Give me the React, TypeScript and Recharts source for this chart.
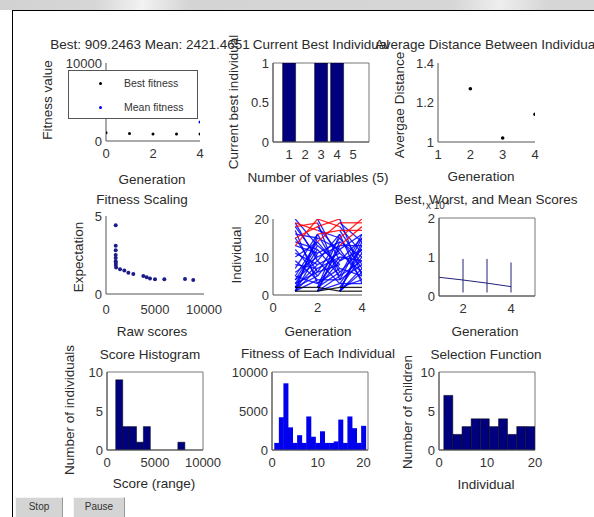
import React from 'react';
import {
  ScatterChart, Scatter, BarChart, Bar, LineChart, Line, ComposedChart, ErrorBar,
  XAxis, YAxis, ReferenceArea,
} from 'recharts';

// Best: / Mean: per generation
const generations = [0, 1, 2, 3, 4];
const bestFitness = [1050, 950, 909, 909, 909];
const meanFitness = [5600, 4800, 4100, 3300, 2421];

// current best individual
const variables = [1, 2, 3, 4, 5];
const bestIndividual = [1, 0, 1, 1, 0];

// average distance
const distGens = [2, 3, 4];
const avgDistance = [1.27, 1.02, 1.14];

// fitness scaling
const rawScores = [990, 990, 990, 990, 990, 990, 1000, 1000, 1030, 1430, 1870, 2280, 2790, 3810, 4150, 4490, 5000, 5950, 8060, 8900];
const expectation = [4.4, 3.1, 2.8, 2.5, 2.3, 2.1, 1.98, 1.86, 1.7, 1.58, 1.5, 1.37, 1.28, 1.15, 1.07, 1.0, 0.94, 0.94, 0.96, 0.9];

// genealogy: parents of each child (0 = no second parent)
const parentsA2 = [1, 2, 5, 1, 12, 3, 8, 2, 19, 6, 1, 14, 4, 10, 2, 7, 19, 15, 18, 13];
const parentsB2 = [0, 0, 17, 9, 2, 15, 1, 11, 4, 18, 13, 3, 20, 5, 16, 1, 0, 0, 0, 0];
const parentsA3 = [2, 1, 9, 4, 1, 16, 3, 13, 2, 7, 18, 5, 1, 11, 6, 2, 16, 20, 14, 18];
const parentsB3 = [0, 0, 1, 19, 12, 2, 14, 6, 20, 3, 8, 15, 10, 1, 17, 9, 0, 0, 0, 0];
const parentsA4 = [1, 2, 3, 12, 7, 1, 15, 4, 10, 2, 18, 6, 13, 1, 9, 5, 17, 13, 19, 15];
const parentsB4 = [0, 0, 16, 2, 20, 11, 1, 17, 5, 14, 3, 9, 1, 19, 4, 12, 0, 0, 0, 0];

// best, worst and mean scores (x 10^4)
const scoreGens = [1, 2, 3, 4];
const meanScore = [0.48, 0.41, 0.33, 0.24];
const bestScore = [0.48, 0.09, 0.09, 0.09];
const worstScore = [0.48, 0.95, 0.95, 0.86];

// score histogram
const histCenters = [1269, 1988, 2707, 3426, 4145, 4864, 5583, 6302, 7021, 7740];
const histCounts = [9, 3, 3, 1, 3, 0, 0, 0, 0, 1];

// fitness of each individual
const individuals = [1, 2, 3, 4, 5, 6, 7, 8, 9, 10, 11, 12, 13, 14, 15, 16, 17, 18, 19, 20];
const fitnessEach = [909, 4200, 8550, 2900, 909, 1900, 909, 4300, 1700, 909, 2400, 909, 909, 1100, 3900, 909, 4300, 2800, 909, 3100];

// selection function
const selCenters = [1.95, 3.85, 5.75, 7.65, 9.55, 11.45, 13.35, 15.25, 17.15, 19.05];
const selCounts = [7, 2, 3, 4, 4, 3, 4, 2, 3, 3];

const font = 'Arial, "Liberation Sans", Helvetica, sans-serif';
const tick = { fontSize: 13, fill: '#333', fontFamily: font };
const axisColor = '#555';
const YW = 46, MT = 10, MR = 22, XH = 28;

const frame = (x: number, y: number, w: number, h: number) => ({
  wrap: { position: 'absolute' as const, left: x - YW, top: y - MT },
  width: YW + w + MR,
  height: MT + h + XH,
  margin: { top: MT, right: MR, left: 0, bottom: 0 },
});

const xAx = (domain: number[], ticks: number[], key: string, tm = 8) => (
  <XAxis type="number" dataKey={key} domain={domain} ticks={ticks} interval={0} tickLine={false}
    tickSize={0} tickMargin={tm} stroke={axisColor} tick={tick} height={XH} allowDataOverflow />
);
const yAx = (domain: number[], ticks: number[], key?: string) => (
  <YAxis type="number" dataKey={key} domain={domain} ticks={ticks} interval={0} tickLine={false}
    tickSize={0} tickMargin={4} stroke={axisColor} tick={tick} width={YW} allowDataOverflow />
);
const boxOf = (x1: number, x2: number, y1: number, y2: number) => (
  <ReferenceArea x1={x1} x2={x2} y1={y1} y2={y2} fill="none" stroke="#777" ifOverflow="visible" />
);
const dot = (r: number, color: string) => (p: any) => <circle cx={p.cx} cy={p.cy} r={r} fill={color} />;

const Txt = ({ x, y, rot, size = 13.5, children }: { x: number; y: number; rot?: boolean; size?: number; children: React.ReactNode }) => (
  <div style={{
    position: 'absolute', left: x, top: y, whiteSpace: 'nowrap', fontFamily: font, fontSize: size, color: '#2a2a2a',
    transform: `translate(-50%,-50%)${rot ? ' rotate(-90deg)' : ''}`, lineHeight: 1,
  }}>{children}</div>
);

type Seg = { data: { g: number; v: number }[]; color: string };
const buildSegments = () => {
  const trans = [
    { g: 2, a: parentsA2, b: parentsB2 },
    { g: 3, a: parentsA3, b: parentsB3 },
    { g: 4, a: parentsA4, b: parentsB4 },
  ];
  const blue: Seg[] = [], red: Seg[] = [], black: Seg[] = [];
  trans.forEach(t => {
    t.a.forEach((pa, i) => {
      const child = i + 1;
      const seg = (p: number) => [{ g: t.g - 1, v: p }, { g: t.g, v: child }];
      if (child <= 2) black.push({ data: seg(pa), color: '#000' });
      else if (child <= 16) {
        blue.push({ data: seg(pa), color: '#0000ff' });
        if (t.b[i]) blue.push({ data: seg(t.b[i]), color: '#0000ff' });
      } else red.push({ data: seg(pa), color: '#ff0000' });
    });
  });
  return [...blue, ...red, ...black];
};

const btn = (left: number, width: number) => ({
  position: 'absolute' as const, left, top: 497, width, height: 22, background: '#d4d4d4',
  borderTop: '1px solid #f4f4f4', borderLeft: '1px solid #f4f4f4', borderRight: '1px solid #999',
  fontSize: 10, color: '#333', textAlign: 'center' as const, lineHeight: '18px',
});

export default function App() {
  const p1 = frame(106, 63, 94, 78);
  const p2 = frame(273, 63, 96, 79);
  const p3 = frame(438, 63, 97, 79);
  const p4 = frame(106, 216, 98, 78);
  const p5 = frame(273, 219, 89, 76);
  const p6 = frame(439, 218, 96, 78);
  const p7 = frame(107, 372, 96, 78);
  const p8 = frame(272, 372, 96, 78);
  const p9 = frame(439, 372, 96, 78);

  const bestData = generations.map((g, i) => ({ x: g, y: bestFitness[i] }));
  const meanData = generations.map((g, i) => ({ x: g, y: meanFitness[i] }));
  const indData = variables.map((v, i) => ({ x: v, y: bestIndividual[i] }));
  const distData = distGens.map((g, i) => ({ x: g, y: avgDistance[i] }));
  const scaleData = rawScores.map((s, i) => ({ x: s, y: expectation[i] }));
  const segments = buildSegments();
  const scoreData = scoreGens.map((g, i) => ({
    g, mean: meanScore[i], err: [meanScore[i] - bestScore[i], worstScore[i] - meanScore[i]],
  }));
  const histData = histCenters.map((c, i) => ({ x: c, y: histCounts[i] }));
  const fitData = individuals.map((n, i) => ({ x: n, y: fitnessEach[i] }));
  const selData = selCenters.map((c, i) => ({ x: c, y: selCounts[i] }));

  return (
    <div style={{ position: 'absolute', left: 0, top: 0, width: 594, height: 517, background: '#fff', overflow: 'hidden', fontFamily: font }}>
      <div style={{ position: 'absolute', left: 0, top: 0, width: 594, height: 10,
        background: 'linear-gradient(100deg, #d2d2d2 0%, #d6d6d6 16%, #f2f2f2 24%, #d4d4d4 32%, #d6d6d6 76%, #eeeeee 84%, #d6d6d6 92%)' }} />
      <div style={{ position: 'absolute', left: 12, top: 10, width: 582, height: 1, background: '#000' }} />
      <div style={{ position: 'absolute', left: 12, top: 10, width: 1, height: 507, background: '#000' }} />

      <div style={p1.wrap}>
        <ScatterChart width={p1.width} height={p1.height} margin={p1.margin}>
          {xAx([0, 4], [0, 2, 4], 'x')}
          {yAx([0, 10000], [0, 10000], 'y')}
          <Scatter data={meanData} shape={dot(1.5, '#0000ff')} isAnimationActive={false} />
          <Scatter data={bestData} shape={dot(1.5, '#000')} isAnimationActive={false} />
        </ScatterChart>
      </div>
      <div style={{ position: 'absolute', left: 68, top: 70, width: 128, height: 47, border: '1px solid #555', background: '#fff' }}>
        <div style={{ position: 'absolute', left: 30, top: 11, width: 3, height: 3, borderRadius: 2, background: '#000' }} />
        <div style={{ position: 'absolute', left: 55, top: 6, fontSize: 10.5, color: '#333' }}>Best fitness</div>
        <div style={{ position: 'absolute', left: 30, top: 35, width: 3, height: 3, borderRadius: 2, background: '#0000ff' }} />
        <div style={{ position: 'absolute', left: 55, top: 30, fontSize: 10.5, color: '#333' }}>Mean fitness</div>
      </div>

      <div style={p2.wrap}>
        <BarChart width={p2.width} height={p2.height} margin={p2.margin} data={indData} barCategoryGap="10%">
          {xAx([0, 6], [1, 2, 3, 4, 5], 'x')}
          {yAx([0, 1], [0, 0.5, 1])}
          <Bar dataKey="y" fill="#00007f" stroke="#000" strokeWidth={0.5} isAnimationActive={false} />
          {boxOf(0, 6, 0, 1)}
        </BarChart>
      </div>

      <div style={p3.wrap}>
        <ScatterChart width={p3.width} height={p3.height} margin={p3.margin}>
          {xAx([1, 4], [1, 2, 3, 4], 'x')}
          {yAx([1, 1.4], [1, 1.2, 1.4], 'y')}
          <Scatter data={distData} shape={dot(1.8, '#000')} isAnimationActive={false} />
        </ScatterChart>
      </div>

      <div style={p4.wrap}>
        <ScatterChart width={p4.width} height={p4.height} margin={p4.margin}>
          {xAx([0, 10000], [0, 5000, 10000], 'x', 11)}
          {yAx([0, 5], [0, 5], 'y')}
          <Scatter data={scaleData} shape={dot(2, '#1c1c8a')} isAnimationActive={false} />
        </ScatterChart>
      </div>

      <div style={p5.wrap}>
        <LineChart width={p5.width} height={p5.height} margin={p5.margin}>
          {xAx([0, 4], [0, 2, 4], 'g')}
          {yAx([0, 20], [0, 10, 20])}
          {segments.map((s, i) => (
            <Line key={i} data={s.data} dataKey="v" stroke={s.color} strokeWidth={1.3} dot={false}
              strokeOpacity={0.85} isAnimationActive={false} />
          ))}
        </LineChart>
      </div>

      <div style={p6.wrap}>
        <ComposedChart width={p6.width} height={p6.height} margin={p6.margin} data={scoreData}>
          {xAx([1, 5], [2, 4], 'g')}
          {yAx([0, 2], [0, 1, 2])}
          <Line dataKey="mean" stroke="#22227a" strokeWidth={1} dot={false} isAnimationActive={false}>
            <ErrorBar dataKey="err" width={0} stroke="#22227a" strokeWidth={1} direction="y" />
          </Line>
          {boxOf(1, 5, 0, 2)}
        </ComposedChart>
      </div>

      <div style={p7.wrap}>
        <BarChart width={p7.width} height={p7.height} margin={p7.margin} data={histData} barCategoryGap={0} barGap={0}>
          {xAx([0, 10000], [0, 5000, 10000], 'x')}
          {yAx([0, 10], [0, 5, 10])}
          <Bar dataKey="y" fill="#00007f" stroke="#000" strokeWidth={0.5} isAnimationActive={false} />
          {boxOf(0, 10000, 0, 10)}
        </BarChart>
      </div>

      <div style={p8.wrap}>
        <BarChart width={p8.width} height={p8.height} margin={p8.margin} data={fitData} barCategoryGap={0} barGap={0}>
          {xAx([0, 21], [0, 10, 20], 'x')}
          {yAx([0, 10000], [0, 5000, 10000])}
          <Bar dataKey="y" fill="#0000ee" isAnimationActive={false} />
          {boxOf(0, 21, 0, 10000)}
        </BarChart>
      </div>

      <div style={p9.wrap}>
        <BarChart width={p9.width} height={p9.height} margin={p9.margin} data={selData} barCategoryGap={0} barGap={0}>
          {xAx([0, 20], [0, 10, 20], 'x')}
          {yAx([0, 10], [0, 5, 10])}
          <Bar dataKey="y" fill="#00007f" stroke="#000" strokeWidth={0.5} isAnimationActive={false} />
          {boxOf(0, 20, 0, 10)}
        </BarChart>
      </div>

      <Txt x={150} y={45}>Best: 909.2463 Mean: 2421.4651</Txt>
      <Txt x={321} y={45}>Current Best Individual</Txt>
      <Txt x={490} y={45}>Average Distance Between Individuals</Txt>
      <Txt x={142} y={200}>Fitness Scaling</Txt>
      <Txt x={486} y={200}>Best, Worst, and Mean Scores</Txt>
      <div style={{ position: 'absolute', left: 426, top: 199, fontSize: 10, color: '#333', lineHeight: 1 }}>
        x 10<sup style={{ fontSize: 8 }}>4</sup>
      </div>
      <Txt x={150} y={355}>Score Histogram</Txt>
      <Txt x={318} y={354}>Fitness of Each Individual</Txt>
      <Txt x={486} y={355}>Selection Function</Txt>

      <Txt x={152} y={180}>Generation</Txt>
      <Txt x={318} y={178}>Number of variables (5)</Txt>
      <Txt x={481} y={177}>Generation</Txt>
      <Txt x={152} y={332}>Raw scores</Txt>
      <Txt x={318} y={332}>Generation</Txt>
      <Txt x={485} y={332}>Generation</Txt>
      <Txt x={154} y={484}>Score (range)</Txt>
      <Txt x={486} y={485}>Individual</Txt>

      <Txt x={48} y={100} rot>Fitness value</Txt>
      <Txt x={234} y={102} rot>Current best individual</Txt>
      <Txt x={400} y={105} rot>Avergae Distance</Txt>
      <Txt x={79} y={257} rot>Expectation</Txt>
      <Txt x={237} y={255} rot>Individual</Txt>
      <Txt x={70} y={410} rot>Number of individuals</Txt>
      <Txt x={408} y={412} rot>Number of children</Txt>

      <div style={btn(15, 46)}>Stop</div>
      <div style={btn(73, 50)}>Pause</div>
    </div>
  );
}
